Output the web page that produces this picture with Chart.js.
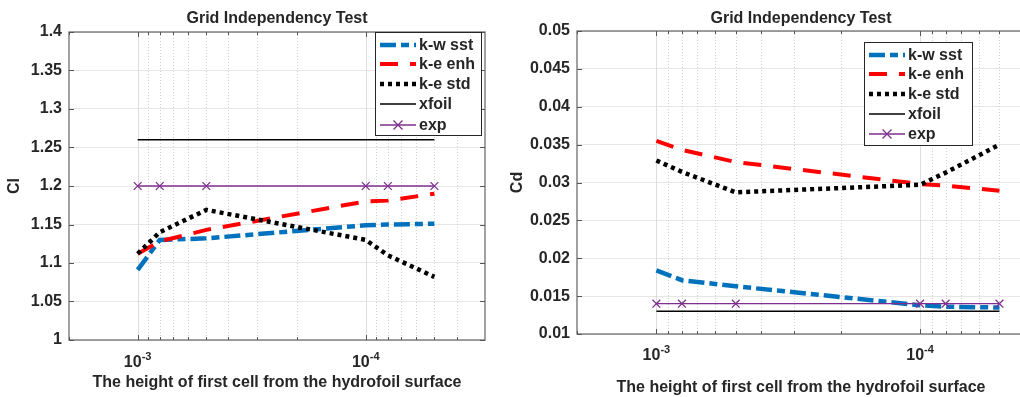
<!DOCTYPE html>
<html>
<head>
<meta charset="utf-8">
<script src="https://cdn.jsdelivr.net/npm/chart.js@4.4.0/dist/chart.umd.min.js"></script>
<style>
  html, body { margin: 0; padding: 0; background: #fff; width: 1020px; height: 397px; overflow: hidden; }
  canvas { position: absolute; top: 0; }
  #clChart { left: 0; }
  #cdChart { left: 510px; }
</style>
</head>
<body>
<canvas id="clChart" width="510" height="397"></canvas>
<canvas id="cdChart" width="530" height="397"></canvas>
<script>
// first cell height (m), x axis runs from coarse to fine
const firstCellHeight = [1e-3, 8e-4, 5e-4, 1e-4, 8e-5, 5e-5];

const seriesLabels = ['k-w sst', 'k-e enh', 'k-e std', 'xfoil', 'exp'];

// lift coefficient
const clKwSst = [1.091, 1.130, 1.132, 1.149, 1.150, 1.151];
const clKeEnh = [1.112, 1.128, 1.143, 1.180, 1.181, 1.190];
const clKeStd = [1.112, 1.140, 1.169, 1.130, 1.110, 1.082];
const clXfoil = [1.26, 1.26, 1.26, 1.26, 1.26, 1.26];
const clExp   = [1.2, 1.2, 1.2, 1.2, 1.2, 1.2];

// drag coefficient
const cdKwSst = [0.0184, 0.0171, 0.0163, 0.0138, 0.0136, 0.0135];
const cdKeEnh = [0.0355, 0.0343, 0.0327, 0.0298, 0.0296, 0.0289];
const cdKeStd = [0.0329, 0.0314, 0.0287, 0.0297, 0.0313, 0.0350];
const cdXfoil = [0.013, 0.013, 0.013, 0.013, 0.013, 0.013];
const cdExp   = [0.014, 0.014, 0.014, 0.014, 0.014, 0.014];

const clTicks = [1, 1.05, 1.1, 1.15, 1.2, 1.25, 1.3, 1.35, 1.4];
const cdTicks = [0.01, 0.015, 0.02, 0.025, 0.03, 0.035, 0.04, 0.045, 0.05];

const FONT = "'Liberation Sans', Arial, Helvetica, sans-serif";
const TEXT = '#262626';

const lineStyles = [
  { color: '#0072BD', width: 4.5, dash: [16, 5, 8, 5] },
  { color: '#FF0000', width: 4, dash: [18, 12] },
  { color: '#000000', width: 4.5, dash: [4, 4] },
  { color: '#000000', width: 1.5, dash: [] },
  { color: '#7E2F8E', width: 1.3, dash: [], marker: 'crossRot' }
];

const isDecade = (v) => Math.abs(Math.log10(v) - Math.round(Math.log10(v))) < 1e-6;

function logTicks(min, max) {
  const out = [];
  for (let e = Math.floor(Math.log10(min)); e <= Math.ceil(Math.log10(max)); e++) {
    for (let k = 1; k <= 9; k++) {
      const v = parseFloat((k * Math.pow(10, e)).toPrecision(3));
      if (v >= min * 0.999 && v <= max * 1.001) out.push({ value: v });
    }
  }
  return out;
}

function makeDatasets(series) {
  return series.map((arr, i) => {
    const s = lineStyles[i];
    return {
      label: seriesLabels[i],
      data: firstCellHeight.map((x, j) => ({ x: x, y: arr[j] })),
      borderColor: s.color,
      backgroundColor: s.color,
      borderWidth: s.width,
      borderDash: s.dash,
      borderCapStyle: 'butt',
      tension: 0,
      pointStyle: s.marker || false,
      pointRadius: s.marker ? 5.5 : 0,
      pointBorderWidth: 1.3,
      pointBorderColor: s.color,
      order: series.length - i
    };
  });
}

const matlabAxes = {
  id: 'matlabAxes',
  beforeDatasetsDraw(chart) {
    const { ctx, chartArea: a, scales: { x } } = chart;
    ctx.save();
    x.ticks.forEach(t => {
      const px = Math.round(x.getPixelForValue(t.value)) + 0.5;
      if (px <= a.left + 1 || px >= a.right - 1) return;
      const major = isDecade(t.value);
      ctx.strokeStyle = major ? '#dedede' : '#d2d2d2';
      ctx.setLineDash(major ? [] : [1, 2]);
      ctx.lineWidth = 1;
      ctx.beginPath();
      ctx.moveTo(px, a.top);
      ctx.lineTo(px, a.bottom);
      ctx.stroke();
    });
    ctx.restore();
  },
  afterDatasetsDraw(chart, args, opts) {
    const { ctx, chartArea: a, scales: { x, y } } = chart;
    ctx.save();
    // axes box
    ctx.strokeStyle = '#6f6f6f';
    ctx.lineWidth = 1.3;
    ctx.strokeRect(a.left, a.top, a.right - a.left, a.bottom - a.top);

    // inward ticks
    ctx.lineWidth = 1;
    ctx.strokeStyle = '#555';
    x.ticks.forEach(t => {
      const px = Math.round(x.getPixelForValue(t.value)) + 0.5;
      if (px < a.left || px > a.right) return;
      const len = isDecade(t.value) ? 5 : 3;
      ctx.beginPath();
      ctx.moveTo(px, a.bottom); ctx.lineTo(px, a.bottom - len);
      ctx.moveTo(px, a.top); ctx.lineTo(px, a.top + len);
      ctx.stroke();
    });
    y.ticks.forEach(t => {
      const py = Math.round(y.getPixelForValue(t.value)) + 0.5;
      ctx.beginPath();
      ctx.moveTo(a.left, py); ctx.lineTo(a.left + 5, py);
      ctx.moveTo(a.right, py); ctx.lineTo(a.right - 5, py);
      ctx.stroke();
    });

    // decade labels 10^n
    ctx.fillStyle = TEXT;
    ctx.textBaseline = 'middle';
    ctx.textAlign = 'left';
    x.ticks.filter(t => isDecade(t.value)).forEach(t => {
      const px = x.getPixelForValue(t.value);
      const base = '10', sup = String(Math.round(Math.log10(t.value)));
      ctx.font = 'bold 16px ' + FONT;
      const wb = ctx.measureText(base).width;
      ctx.font = 'bold 11px ' + FONT;
      const ws = ctx.measureText(sup).width;
      const x0 = px - (wb + ws) / 2;
      ctx.font = 'bold 16px ' + FONT;
      ctx.fillText(base, x0, opts.labelY);
      ctx.font = 'bold 11px ' + FONT;
      ctx.fillText(sup, x0 + wb, opts.labelY - 6);
    });

    // legend box
    const L = opts.legend;
    ctx.fillStyle = '#fff';
    ctx.fillRect(L.x, L.y, L.w, L.h);
    ctx.strokeStyle = '#262626';
    ctx.lineWidth = 1;
    ctx.strokeRect(L.x + 0.5, L.y + 0.5, L.w, L.h);
    chart.data.datasets.forEach((ds, i) => {
      const ry = L.rows[i];
      ctx.save();
      ctx.strokeStyle = ds.borderColor;
      ctx.lineWidth = ds.borderWidth;
      ctx.setLineDash(ds.borderDash);
      ctx.lineCap = 'butt';
      ctx.beginPath();
      ctx.moveTo(L.x + 5, ry);
      ctx.lineTo(L.x + 41, ry);
      ctx.stroke();
      if (ds.pointStyle) {
        ctx.setLineDash([]);
        ctx.lineWidth = ds.pointBorderWidth;
        const cx = L.x + 23, r = 4.5;
        ctx.beginPath();
        ctx.moveTo(cx - r, ry - r); ctx.lineTo(cx + r, ry + r);
        ctx.moveTo(cx - r, ry + r); ctx.lineTo(cx + r, ry - r);
        ctx.stroke();
      }
      ctx.restore();
      ctx.fillStyle = TEXT;
      ctx.font = 'bold 16px ' + FONT;
      ctx.textAlign = 'left';
      ctx.textBaseline = 'middle';
      ctx.fillText(ds.label, L.x + 44, ry + 1);
    });
    ctx.restore();
  }
};

function makeChart(id, o) {
  return new Chart(document.getElementById(id), {
    type: 'line',
    data: { datasets: makeDatasets(o.series) },
    plugins: [matlabAxes],
    options: {
      responsive: false,
      animation: false,
      devicePixelRatio: 1,
      layout: { padding: { left: 0, right: o.padRight, top: 0, bottom: 0 } },
      plugins: {
        legend: { display: false },
        tooltip: { enabled: false },
        title: {
          display: true,
          text: 'Grid Independency Test',
          fullSize: false,
          color: TEXT,
          font: { family: FONT, size: 16, weight: 'bold', lineHeight: 1.2 },
          padding: { top: 9.4, bottom: o.titleBottom }
        },
        matlabAxes: { labelY: o.labelY, legend: o.legend }
      },
      scales: {
        x: {
          type: 'logarithmic',
          reverse: true,
          min: o.xMin,
          max: 2e-3,
          afterBuildTicks: (s) => { s.ticks = logTicks(s.min, s.max); },
          afterFit: (s) => { s.height = o.xHeight; },
          ticks: { display: false },
          grid: { display: false },
          border: { display: false },
          title: {
            display: true,
            text: 'The height of first cell from the hydrofoil surface',
            color: TEXT,
            font: { family: FONT, size: 16, weight: 'bold', lineHeight: 1 },
            padding: { top: 0, bottom: o.xTitlePad }
          }
        },
        y: {
          min: o.yTicks[0],
          max: o.yTicks[o.yTicks.length - 1],
          afterBuildTicks: (s) => { s.ticks = o.yTicks.map(v => ({ value: v })); },
          afterFit: (s) => { s.width = o.yWidth; },
          ticks: {
            color: TEXT,
            padding: 7,
            font: { family: FONT, size: 16, weight: 'bold' },
            callback: (v) => String(Number(v.toFixed(4)))
          },
          grid: { color: '#e6e6e6', drawTicks: false, lineWidth: 1 },
          border: { display: false },
          title: {
            display: true,
            text: o.yTitle,
            color: TEXT,
            font: { family: FONT, size: 16, weight: 'bold', lineHeight: o.yTitleLH },
            padding: { top: o.yTitlePad, bottom: 0 }
          }
        }
      }
    }
  });
}

makeChart('clChart', {
  series: [clKwSst, clKeEnh, clKeStd, clXfoil, clExp],
  yTicks: clTicks,
  yTitle: 'Cl',
  xMin: 3e-5,
  padRight: 25,
  titleBottom: 3.4,
  xHeight: 57,
  xTitlePad: 6,
  yWidth: 69,
  yTitleLH: 1,
  yTitlePad: 7,
  labelY: 363,
  legend: { x: 375, y: 32, w: 106, h: 103, rows: [45, 64, 84, 104, 125] }
});

makeChart('cdChart', {
  series: [cdKwSst, cdKeEnh, cdKeStd, cdXfoil, cdExp],
  yTicks: cdTicks,
  yTitle: 'Cd',
  xMin: 4e-5,
  padRight: 15,
  titleBottom: 2.4,
  xHeight: 63,
  xTitlePad: 1,
  yWidth: 67,
  yTitleLH: 0.9,
  yTitlePad: 0,
  labelY: 356,
  legend: { x: 354, y: 42, w: 108, h: 103, rows: [55, 74, 94, 114, 134] }
});
</script>
</body>
</html>
